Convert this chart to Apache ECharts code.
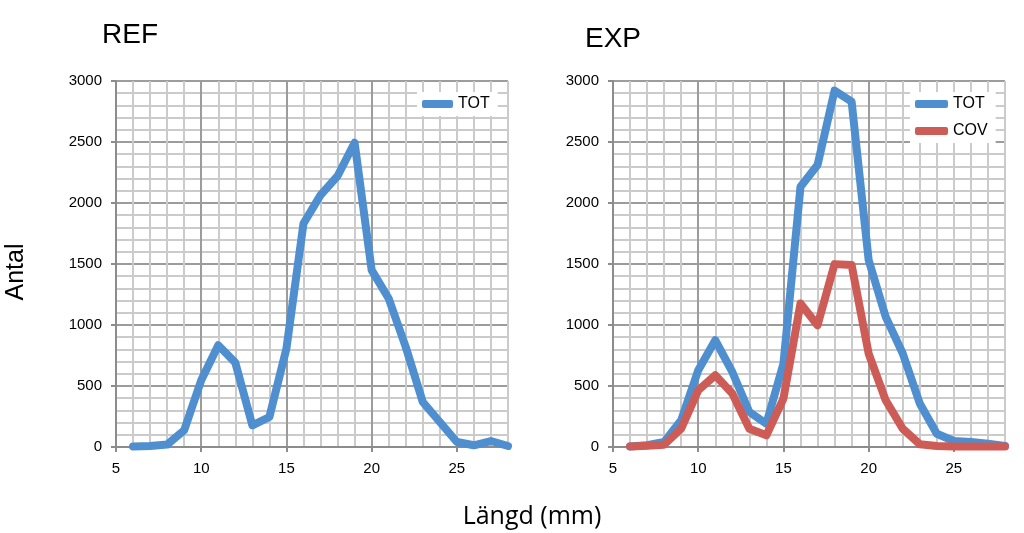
<!DOCTYPE html>
<html>
<head>
<meta charset="utf-8">
<script src="https://cdn.jsdelivr.net/npm/echarts@6/dist/echarts.min.js"></script>
<style>html,body{margin:0;padding:0;background:#fff}#c{width:1024px;height:533px}</style>
</head>
<body>
<div id="c"></div>
<script>
// Lengths (mm)
const lengths = [6,7,8,9,10,11,12,13,14,15,16,17,18,19,20,21,22,23,24,25,26,27,28];
// REF panel
const refTOT = [5,8,20,137,547,834,692,178,246,807,1832,2065,2221,2494,1450,1217,820,369,205,41,14,49,8];
// EXP panel
const expTOT = [5,14,41,219,629,875,615,287,191,684,2133,2311,2921,2831,1532,1067,766,356,109,49,41,27,8];
const expCOV = [5,11,19,150,465,588,438,150,96,397,1176,998,1499,1491,766,383,150,22,8,5,5,5,5];
// Ticks
const xTicks = [5,10,15,20,25];
const yTicks = [0,500,1000,1500,2000,2500,3000];
const xMin = 5, xMax = 28, yMin = 0, yMax = 3000;
const panelTitles = ['REF','EXP'];
const seriesNames = ['TOT','COV'];

const BLUE = '#4f8fcf', RED = '#cd5c57';
const FONT = 'Liberation Sans, Arial, sans-serif';

const zip = (xs, ys) => xs.map((x, i) => [x, ys[i]]);

function minorX(grid) {
  return { type:'value', gridIndex:grid, min:xMin, max:xMax, interval:1, position:'bottom',
    axisLine:{show:false}, axisTick:{show:false}, axisLabel:{show:false},
    splitLine:{show:true, lineStyle:{color:'#cbcbcb', width:2}} };
}
function majorX(grid) {
  return { type:'value', gridIndex:grid, min:xMin, max:xMax, interval:xTicks[1]-xTicks[0], position:'bottom',
    axisLine:{show:true, lineStyle:{color:'#8c8c8c', width:2}},
    axisTick:{show:true, length:5, customValues:xTicks, lineStyle:{color:'#8c8c8c', width:2}},
    axisLabel:{show:true, fontSize:15, color:'#000', fontFamily:FONT, margin:14,
      formatter:(v)=> xTicks.indexOf(v) >= 0 ? String(v) : ''},
    splitLine:{show:true, showMaxLine:false, lineStyle:{color:'#9c9c9c', width:2}} };
}
function minorY(grid) {
  return { type:'value', gridIndex:grid, min:yMin, max:yMax, interval:100, position:'left',
    axisLine:{show:false}, axisTick:{show:false}, axisLabel:{show:false},
    splitLine:{show:true, lineStyle:{color:'#cbcbcb', width:2}} };
}
function majorY(grid) {
  return { type:'value', gridIndex:grid, min:yMin, max:yMax, interval:yTicks[1]-yTicks[0], position:'left',
    axisLine:{show:true, lineStyle:{color:'#8c8c8c', width:2}},
    axisTick:{show:true, length:5, lineStyle:{color:'#8c8c8c', width:2}},
    axisLabel:{show:true, fontSize:15, color:'#000', fontFamily:FONT, margin:14,
      formatter:(v)=> String(v)},
    splitLine:{show:true, lineStyle:{color:'#9c9c9c', width:2}} };
}
function lineSeries(name, data, color, xi, yi) {
  return { type:'line', name:name, xAxisIndex:xi, yAxisIndex:yi, data:zip(lengths, data),
    showSymbol:false, symbol:'none', color:color, z:5, animation:false,
    lineStyle:{color:color, width:8, cap:'round', join:'round'} };
}

const chart = echarts.init(document.getElementById('c'), null, {renderer:'canvas'});
chart.setOption({
  animation:false,
  backgroundColor:'#fff',
  grid:[
    {left:116, top:81, width:392, height:366},
    {left:613, top:81, width:392, height:366}
  ],
  xAxis:[minorX(0), majorX(0), minorX(1), majorX(1)],
  yAxis:[minorY(0), majorY(0), minorY(1), majorY(1)],
  legend:[
    {data:[seriesNames[0]], left:417, top:92, orient:'vertical', backgroundColor:'#fff',
     padding:[4,8,4,5], icon:'roundRect', itemWidth:31, itemHeight:8,
     textStyle:{fontSize:16, color:'#000', fontFamily:FONT}, selectedMode:false},
    {data:[seriesNames[0], seriesNames[1]], left:910, top:92, orient:'vertical', backgroundColor:'#fff',
     padding:[4,8,4,5], itemGap:11, icon:'roundRect', itemWidth:33, itemHeight:8,
     textStyle:{fontSize:16, color:'#000', fontFamily:FONT}, selectedMode:false}
  ],
  series:[
    lineSeries(seriesNames[0], refTOT, BLUE, 1, 1),
    lineSeries(seriesNames[0], expTOT, BLUE, 3, 3),
    lineSeries(seriesNames[1], expCOV, RED, 3, 3)
  ],
  graphic:[
    {type:'text', left:102, top:21, style:{text:panelTitles[0], font:'28px '+FONT, fill:'#000'}},
    {type:'text', left:585, top:25, style:{text:panelTitles[1], font:'28px '+FONT, fill:'#000'}},
    {type:'text', x:16, y:272, rotation:Math.PI/2,
     style:{text:'Antal', font:'25px '+FONT, fill:'#000', align:'center', verticalAlign:'middle'}},
    {type:'text', x:532, y:517,
     style:{text:'Längd (mm)', font:'25px "Open Sans", "Noto Sans", sans-serif', fill:'#000', align:'center', verticalAlign:'middle'}}
  ]
});
</script>
</body>
</html>
